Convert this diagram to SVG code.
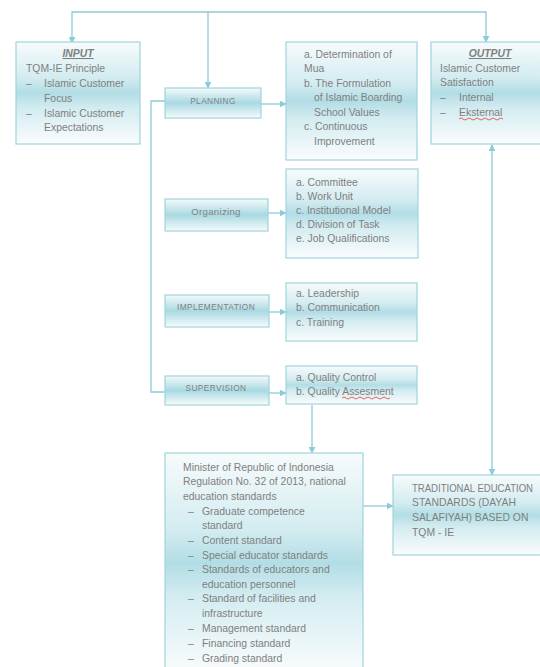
<svg xmlns="http://www.w3.org/2000/svg" width="540" height="667" viewBox="0 0 540 667">
<defs>
<linearGradient id="g" x1="0" y1="0" x2="0" y2="1">
<stop offset="0" stop-color="#f4fafb"/>
<stop offset="0.5" stop-color="#a9d9e2"/>
<stop offset="1" stop-color="#f7fbfc"/>
</linearGradient>
<linearGradient id="gl" x1="0" y1="0" x2="0" y2="1">
<stop offset="0" stop-color="#f7fbfc"/>
<stop offset="0.35" stop-color="#d3ecf0"/>
<stop offset="0.5" stop-color="#b2dde5"/>
<stop offset="0.65" stop-color="#d3ecf0"/>
<stop offset="1" stop-color="#fafcfd"/>
</linearGradient>
<marker id="a" viewBox="0 0 10 10" refX="9" refY="5" markerWidth="7" markerHeight="7" orient="auto-start-reverse" markerUnits="userSpaceOnUse">
<path d="M0,0 L10,5 L0,10 z" fill="#8ccbd8"/>
</marker>
<style>
.bx{fill:url(#gl);stroke:#9fd4de;stroke-width:1.2}
.sb{fill:url(#g);stroke:#9fd4de;stroke-width:1.2}
.ln{fill:none;stroke:#8ccbd8;stroke-width:1.3}
text{font-family:"Liberation Sans",Arial,sans-serif;fill:#7f7f7f;font-size:10.4px}
.lb{font-size:8.3px;letter-spacing:0.4px;text-anchor:middle}
.hd{font-weight:bold;font-style:italic;text-decoration:underline;text-anchor:middle}
.sq{fill:none;stroke:#e0403a;stroke-width:0.8}
</style>
</defs>

<g id="connectors">
<polyline class="ln" points="72,43 72,12 486,12 486,42" marker-start="url(#a)" marker-end="url(#a)"/>
<line class="ln" x1="208" y1="12" x2="208" y2="88" marker-end="url(#a)"/>
<polyline class="ln" points="165,101 151,101 151,392 165,392"/>
<line class="ln" x1="261" y1="104" x2="286" y2="104" marker-end="url(#a)"/>
<line class="ln" x1="268" y1="213" x2="286" y2="213" marker-end="url(#a)"/>
<line class="ln" x1="269" y1="312" x2="286" y2="312" marker-end="url(#a)"/>
<line class="ln" x1="269" y1="393" x2="286" y2="393" marker-end="url(#a)"/>
<line class="ln" x1="312" y1="405" x2="312" y2="453" marker-end="url(#a)"/>
<line class="ln" x1="363" y1="506" x2="393" y2="506" marker-end="url(#a)"/>
<line class="ln" x1="492" y1="145" x2="492" y2="475" marker-start="url(#a)" marker-end="url(#a)"/>
</g>

<g id="input">
<rect class="bx" x="16" y="42" width="124" height="102"/>
<text class="hd" x="78" y="57">INPUT</text>
<text x="26" y="72">TQM-IE Principle</text>
<text x="26" y="87">–</text><text x="44" y="87">Islamic Customer</text>
<text x="44" y="102">Focus</text>
<text x="26" y="117">–</text><text x="44" y="117">Islamic Customer</text>
<text x="44" y="131">Expectations</text>
</g>

<g id="planning">
<rect class="sb" x="165" y="88" width="96" height="30"/>
<text class="lb" x="213" y="104">PLANNING</text>
</g>

<g id="planning-items">
<rect class="bx" x="286" y="42" width="131" height="118"/>
<text x="304" y="58">a. Determination of</text>
<text x="304" y="72">Mua</text>
<text x="304" y="87">b. The Formulation</text>
<text x="314" y="101">of Islamic Boarding</text>
<text x="314" y="116">School Values</text>
<text x="304" y="130">c. Continuous</text>
<text x="314" y="145">Improvement</text>
</g>

<g id="output">
<rect class="bx" x="431" y="42" width="112" height="102"/>
<text class="hd" x="490" y="57">OUTPUT</text>
<text x="440" y="72">Islamic Customer</text>
<text x="440" y="86">Satisfaction</text>
<text x="440" y="101">–</text><text x="459" y="101">Internal</text>
<text x="440" y="116">–</text><text x="459" y="116">Eksternal</text>
<path class="sq" d="M459,119 q2,-2 4,0 t4,0 t4,0 t4,0 t4,0 t4,0 t4,0 t4,0 t4,0 t4,0 t4,0"/>
</g>

<g id="organizing">
<rect class="sb" x="165" y="199" width="103" height="32"/>
<text class="lb" x="216" y="215" style="font-size:9.6px;letter-spacing:0.3px">Organizing</text>
</g>

<g id="organizing-items">
<rect class="bx" x="286" y="169" width="132" height="89"/>
<text x="296" y="186">a. Committee</text>
<text x="296" y="200">b. Work Unit</text>
<text x="296" y="214">c. Institutional Model</text>
<text x="296" y="228">d. Division of Task</text>
<text x="296" y="242">e. Job Qualifications</text>
</g>

<g id="implementation">
<rect class="sb" x="165" y="295" width="104" height="32"/>
<text class="lb" x="216" y="310">IMPLEMENTATION</text>
</g>

<g id="implementation-items">
<rect class="bx" x="286" y="283" width="131" height="58"/>
<text x="296" y="297">a. Leadership</text>
<text x="296" y="311">b. Communication</text>
<text x="296" y="326">c. Training</text>
</g>

<g id="supervision">
<rect class="sb" x="165" y="376" width="104" height="29"/>
<text class="lb" x="216" y="391">SUPERVISION</text>
</g>

<g id="supervision-items">
<rect class="bx" x="286" y="366" width="131" height="38"/>
<text x="296" y="381">a. Quality Control</text>
<text x="296" y="395">b. Quality Assesment</text>
<path class="sq" d="M342,398 q2,-2 4,0 t4,0 t4,0 t4,0 t4,0 t4,0 t4,0 t4,0 t4,0 t4,0 t4,0 t4,0"/>
</g>

<g id="national-standards">
<rect class="bx" x="165" y="453" width="198" height="220"/>
<text x="183" y="471">Minister of Republic of Indonesia</text>
<text x="183" y="485">Regulation No. 32 of 2013, national</text>
<text x="183" y="500">education standards</text>
<text x="188" y="515">–</text><text x="202" y="515">Graduate competence</text>
<text x="202" y="529">standard</text>
<text x="188" y="544">–</text><text x="202" y="544">Content standard</text>
<text x="188" y="559">–</text><text x="202" y="559">Special educator standards</text>
<text x="188" y="573">–</text><text x="202" y="573">Standards of educators and</text>
<text x="202" y="588">education personnel</text>
<text x="188" y="602">–</text><text x="202" y="602">Standard of facilities and</text>
<text x="202" y="617">infrastructure</text>
<text x="188" y="632">–</text><text x="202" y="632">Management standard</text>
<text x="188" y="647">–</text><text x="202" y="647">Financing standard</text>
<text x="188" y="662">–</text><text x="202" y="662">Grading standard</text>
</g>

<g id="traditional">
<rect class="bx" x="393" y="475" width="152" height="80"/>
<text x="412" y="492" textLength="121" lengthAdjust="spacingAndGlyphs">TRADITIONAL EDUCATION</text>
<text x="412" y="506">STANDARDS (DAYAH</text>
<text x="412" y="521">SALAFIYAH) BASED ON</text>
<text x="412" y="536">TQM - IE</text>
</g>
</svg>
